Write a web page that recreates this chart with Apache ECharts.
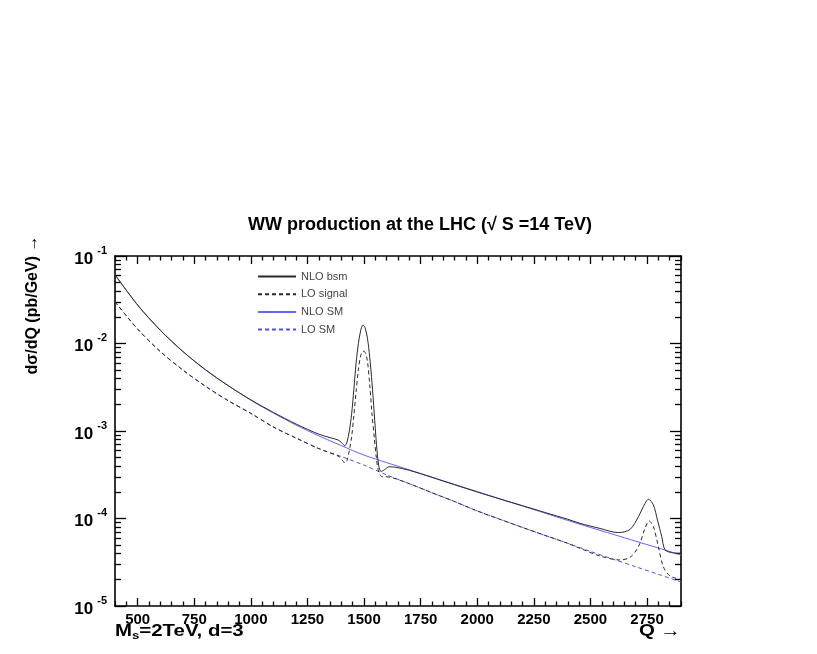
<!DOCTYPE html>
<html><head><meta charset="utf-8">
<script src="https://cdn.jsdelivr.net/npm/echarts@6/dist/echarts.min.js"></script>
<style>html,body{margin:0;padding:0;background:#fff}#c{width:817px;height:654px}</style>
</head><body><div id="c"></div>
<script>
// ---- data ----
const seriesNames = ['NLO bsm', 'LO signal', 'NLO SM', 'LO SM'];

const nloBsmQ = [400,500,600,700,800,900,1000,1100,1200,1300,1350,1385,1400,1415,1425,1435,1445,1455,1465,1475,1485,1495,1505,1515,1525,1535,1545,1555,1565,1575,1590,1610,1640,1700,1800,1900,2000,2100,2200,2300,2400,2454,2542,2623,2675,2712,2741,2756,2778,2796,2815,2829,2859,2900];
const nloBsmVal = [6.1e-2,2.75e-2,1.42e-2,8.1e-3,5.0e-3,3.3e-3,2.27e-3,1.63e-3,1.2e-3,9.2e-4,8.4e-4,7.9e-4,7.4e-4,6.8e-4,7.5e-4,1.0e-3,1.55e-3,3.0e-3,6.0e-3,1.0e-2,1.4e-2,1.63e-2,1.5e-2,1.15e-2,7.0e-3,3.6e-3,1.6e-3,7.0e-4,4.0e-4,3.45e-4,3.6e-4,3.9e-4,3.85e-4,3.55e-4,2.95e-4,2.43e-4,2.01e-4,1.67e-4,1.40e-4,1.17e-4,9.8e-5,8.8e-5,7.7e-5,6.9e-5,7.5e-5,1.05e-4,1.49e-4,1.66e-4,1.43e-4,9.6e-5,6.2e-5,4.4e-5,4.07e-5,4.0e-5];

const loSigQ = [400,500,600,700,800,900,1000,1100,1200,1300,1390,1405,1416,1425,1435,1445,1455,1465,1475,1485,1495,1505,1515,1525,1535,1545,1555,1565,1580,1595,1620,1700,1800,1900,2000,2100,2200,2300,2400,2454,2542,2630,2675,2712,2741,2759,2778,2800,2822,2851,2880,2900];
const loSigVal = [3.0e-2,1.46e-2,8.1e-3,4.97e-3,3.24e-3,2.22e-3,1.59e-3,1.11e-3,8.3e-4,6.3e-4,5.1e-4,4.6e-4,4.3e-4,4.6e-4,6.0e-4,8.5e-4,1.5e-3,2.8e-3,5.0e-3,7.2e-3,8.2e-3,7.9e-3,6.3e-3,3.4e-3,1.6e-3,8.5e-4,4.8e-4,3.4e-4,3.0e-4,3.0e-4,2.95e-4,2.5e-4,1.97e-4,1.56e-4,1.22e-4,9.8e-5,7.9e-5,6.4e-5,5.2e-5,4.56e-5,3.73e-5,3.36e-5,3.6e-5,4.76e-5,7.7e-5,9.4e-5,8.1e-5,4.76e-5,2.81e-5,2.2e-5,2.07e-5,2.0e-5];

const nloSmQ = [400,500,600,700,800,900,1000,1100,1200,1300,1400,1500,1600,1700,1800,1900,2000,2100,2200,2300,2400,2500,2600,2700,2800,2900];
const nloSmVal = [6.1e-2,2.75e-2,1.42e-2,8.1e-3,5.0e-3,3.3e-3,2.25e-3,1.6e-3,1.17e-3,8.8e-4,6.8e-4,5.3e-4,4.35e-4,3.6e-4,2.97e-4,2.45e-4,2.03e-4,1.68e-4,1.39e-4,1.15e-4,9.5e-5,7.9e-5,6.6e-5,5.5e-5,4.6e-5,3.83e-5];

const loSmQ = [400,500,600,700,800,900,1000,1100,1200,1300,1400,1500,1600,1700,1800,1900,2000,2100,2200,2300,2400,2500,2600,2700,2800,2900];
const loSmVal = [3.0e-2,1.46e-2,8.1e-3,4.97e-3,3.24e-3,2.22e-3,1.59e-3,1.11e-3,8.3e-4,6.3e-4,5.1e-4,4.07e-4,3.15e-4,2.5e-4,1.97e-4,1.56e-4,1.22e-4,9.8e-5,7.9e-5,6.4e-5,5.2e-5,4.2e-5,3.43e-5,2.81e-5,2.3e-5,1.88e-5];

// ---- axis ticks ----
const xMajorTicks = [500,750,1000,1250,1500,1750,2000,2250,2500,2750];
const xMinorTicks = [400,450,550,600,650,700,800,850,900,950,1050,1100,1150,1200,1300,1350,1400,1450,1550,1600,1650,1700,1800,1850,1900,1950,2050,2100,2150,2200,2300,2350,2400,2450,2550,2600,2650,2700,2800,2850,2900];
const yMajorTicks = [1e-5,1e-4,1e-3,1e-2,1e-1];
const yMinorMult = [2,3,4,5,6,7,8,9];
const yMinorTicks = [];
[1e-5,1e-4,1e-3,1e-2].forEach(d => yMinorMult.forEach(m => yMinorTicks.push(+(d*m).toPrecision(3))));

const titleText = 'WW production at the LHC (\u221A S =14 TeV)';
const yName = 'd\u03C3/dQ (pb/GeV) \u2192';

const FONT = 'Liberation Sans';
const zip = (q, v) => q.map((x, i) => [x, v[i]]);

const chart = echarts.init(document.getElementById('c'), null, {renderer: 'canvas'});

function xAxisDef(pos, major) {
  return {
    type: 'value', min: 400, max: 2900, position: pos, gridIndex: 0,
    axisLine: {show: major, lineStyle: {color: '#000', width: 1.6}},
    axisTick: {show: true, inside: true, length: major ? 8 : 4.5, customValues: major ? xMajorTicks : xMinorTicks,
               lineStyle: {color: '#000', width: 1.3}},
    axisLabel: {show: major && pos === 'bottom', customValues: xMajorTicks, margin: 6,
                formatter: v => String(v),
                fontFamily: FONT, fontWeight: 'bold', fontSize: 15, color: '#000'},
    splitLine: {show: false}
  };
}
function yAxisDef(pos, major) {
  return {
    type: 'log', logBase: 10, min: 1e-5, max: 1e-1, position: pos, gridIndex: 0,
    axisLine: {show: major, lineStyle: {color: '#000', width: 1.6}},
    axisTick: {show: true, inside: true, length: major ? 11 : 6, customValues: major ? yMajorTicks : yMinorTicks,
               lineStyle: {color: '#000', width: 1.3}},
    axisLabel: {show: major && pos === 'left', customValues: yMajorTicks, margin: 8,
                padding: [6, 0, 0, 0],
                formatter: v => '{b|10}{s|' + Math.round(Math.log10(v)) + '}',
                rich: {
                  b: {fontFamily: FONT, fontWeight: 'bold', fontSize: 17, lineHeight: 28, color: '#000'},
                  s: {fontFamily: FONT, fontWeight: 'bold', fontSize: 11, lineHeight: 12, verticalAlign: 'top', color: '#000', padding: [0, 0, 0, 4]}
                }},
    splitLine: {show: false}
  };
}

const option = {
  animation: false,
  backgroundColor: '#fff',
  grid: {left: 115, right: 136, top: 256, bottom: 48, show: false},
  xAxis: [xAxisDef('bottom', true), xAxisDef('bottom', false), xAxisDef('top', true), xAxisDef('top', false)],
  yAxis: [yAxisDef('left', true), yAxisDef('left', false), yAxisDef('right', true), yAxisDef('right', false)],
  legend: {
    data: seriesNames, orient: 'vertical', left: 257, top: 271, padding: 0,
    itemWidth: 38, itemHeight: 12, itemGap: 6.7,
    itemStyle: {opacity: 0},
    textStyle: {fontFamily: FONT, fontSize: 11, color: '#444'}
  },
  graphic: [
    {type: 'text', x: 420, y: 225, style: {text: titleText, font: 'bold 18px "Liberation Sans"', fill: '#000', textAlign: 'center', textVerticalAlign: 'middle'}},
    {type: 'text', x: 33, y: 305, rotation: Math.PI / 2, style: {text: yName, font: 'bold 16px "Liberation Sans"', fill: '#000', textAlign: 'center', textVerticalAlign: 'middle'}},
    {type: 'text', x: 115, y: 631, scaleX: 1.2, style: {text: '{a|M}{b|s}{a|=2TeV, d=3}', textVerticalAlign: 'middle', fill: '#000',
      rich: {a: {fontFamily: FONT, fontWeight: 'bold', fontSize: 17, lineHeight: 20, fill: '#000'},
             b: {fontFamily: FONT, fontWeight: 'bold', fontSize: 11, lineHeight: 11, verticalAlign: 'bottom', fill: '#000'}}}},
    {type: 'text', x: 681, y: 631, scaleX: 1.2, style: {text: 'Q \u2192', font: 'bold 17px "Liberation Sans"', fill: '#000', textAlign: 'right', textVerticalAlign: 'middle'}}
  ],
  series: [
    {name: seriesNames[0], type: 'line', data: zip(nloBsmQ, nloBsmVal), symbol: 'none', smooth: 0.3, z: 4,
     lineStyle: {color: '#2a2a2a', width: 1}, itemStyle: {color: '#2a2a2a'}},
    {name: seriesNames[1], type: 'line', data: zip(loSigQ, loSigVal), symbol: 'none', smooth: 0.3, z: 4,
     lineStyle: {color: '#2a2a2a', width: 1, type: [4, 3]}, itemStyle: {color: '#2a2a2a'}},
    {name: seriesNames[2], type: 'line', data: zip(nloSmQ, nloSmVal), symbol: 'none', smooth: 0.3, z: 3,
     lineStyle: {color: '#6464ff', width: 1}, itemStyle: {color: '#6464ff'}},
    {name: seriesNames[3], type: 'line', data: zip(loSmQ, loSmVal), symbol: 'none', smooth: 0.3, z: 3,
     lineStyle: {color: '#5050e6', width: 1, type: [4, 3]}, itemStyle: {color: '#5050e6'}}
  ]
};
chart.setOption(option);
</script>
</body></html>
